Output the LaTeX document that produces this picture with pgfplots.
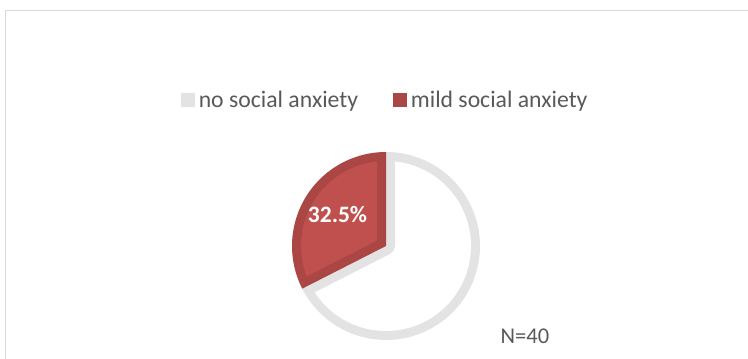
\documentclass[border=0pt]{standalone}
\usepackage{fontspec}
\setmainfont{Carlito}
\usepackage{pgfplots}
\usepackage{pgfplotstable}
\pgfplotsset{compat=1.18}
\definecolor{piered}{HTML}{C0504D}
\definecolor{pieredb}{HTML}{AA4643}
\definecolor{piegrayb}{HTML}{E3E3E3}
\definecolor{framegray}{HTML}{D9D9D9}
\definecolor{txtgray}{HTML}{595959}

\pgfplotstableread{
label value
no 67.5
mild 32.5
}\piedata

\begin{document}
\begin{tikzpicture}
\pgfplotstablegetelem{1}{value}\of\piedata
\pgfmathsetmacro\vmild{\pgfplotsretval}
\def\cx{386}\def\cy{113}\def\R{94}\def\d{9}
\pgfmathsetmacro\aA{90}
\pgfmathsetmacro\aB{90+3.6*\vmild}
\pgfmathsetmacro\aC{450}
\pgfmathsetmacro\ri{\R-\d}
\pgfmathsetmacro\del{asin(\d/\ri)}
\pgfmathsetmacro\off{\d/sin((\aB-\aA)/2)}
\pgfmathsetmacro\bis{(\aA+\aB)/2}
\pgfmathsetmacro\apx{\cx+\off*cos(\bis)}
\pgfmathsetmacro\apy{\cy+\off*sin(\bis)}
\pgfmathsetmacro\rsA{\aA+\del}
\pgfmathsetmacro\reA{\aB-\del}
\pgfmathsetmacro\gsA{\aB+\del}
\pgfmathsetmacro\geA{\aC-\del}
\pgfmathsetmacro\qx{\cx+\d*cos(\aC-90)}
\pgfmathsetmacro\qy{\cy+\d*sin(\aC-90)}
\pgfmathsetmacro\qsa{\aC-90}
\pgfmathsetmacro\qea{\aB+90}
\begin{axis}[x=1pt,y=1pt,xmin=0,xmax=748,ymin=0,ymax=359,
  hide axis, clip=false,
  legend image code/.code={\fill[#1, draw=none] (0pt,-6.8pt) rectangle (13.6pt,6.8pt);},
  legend cell align=left,
  legend style={draw=none, fill=none, at={(axis cs:181,259)}, anchor=west,
    legend columns=2, inner sep=0pt, outer sep=0pt,
    font=\fontsize{23.7}{28}\selectfont, text=txtgray,
    nodes={inner sep=0pt},
    /tikz/every odd column/.append style={column sep=4.2pt},
    /tikz/every even column/.append style={column sep=35pt}},
]
\draw[framegray, line width=1.5pt] (axis cs:5.5,-20) -- (axis cs:5.5,348.5) -- (axis cs:800,348.5);
% gray slice (no social anxiety)
\addplot[forget plot, fill=piegrayb, draw=none, domain=\aB:\aC, samples=120, variable=\t]
  ({\cx+\R*cos(\t)},{\cy+\R*sin(\t)}) -- (axis cs:\cx,\cy) -- cycle;
\addplot[forget plot, fill=white, draw=none, domain=\gsA:\geA, samples=120, variable=\t]
  ({\cx+\ri*cos(\t)},{\cy+\ri*sin(\t)}) -- (axis cs:\qx,\qy) arc[start angle=\qsa, end angle=\qea, radius=\d pt] -- cycle;
% red slice (mild social anxiety)
\addplot[forget plot, fill=pieredb, draw=none, domain=\aA:\aB, samples=80, variable=\t]
  ({\cx+\R*cos(\t)},{\cy+\R*sin(\t)}) -- (axis cs:\cx,\cy) -- cycle;
\addplot[forget plot, fill=piered, draw=none, domain=\rsA:\reA, samples=80, variable=\t]
  ({\cx+\ri*cos(\t)},{\cy+\ri*sin(\t)}) -- (axis cs:\apx,\apy) -- cycle;
\addlegendimage{fill=piegrayb, draw=none}
\addlegendentry{no social anxiety}
\addlegendimage{fill=pieredb, draw=none}
\addlegendentry{mild social anxiety}
\node[anchor=base, text=white, inner sep=0pt, font=\fontsize{23.5}{28}\selectfont\bfseries] at (axis cs:337.5,136) {\vmild\%};
\node[anchor=base west, text=txtgray, inner sep=0pt, font=\fontsize{22.5}{27}\selectfont] at (axis cs:500.5,15) {N=40};
\coordinate (SW) at (axis cs:0,0);
\coordinate (NE) at (axis cs:748,359);
\end{axis}
\pgfresetboundingbox
\useasboundingbox (SW) rectangle (NE);
\end{tikzpicture}
\end{document}
